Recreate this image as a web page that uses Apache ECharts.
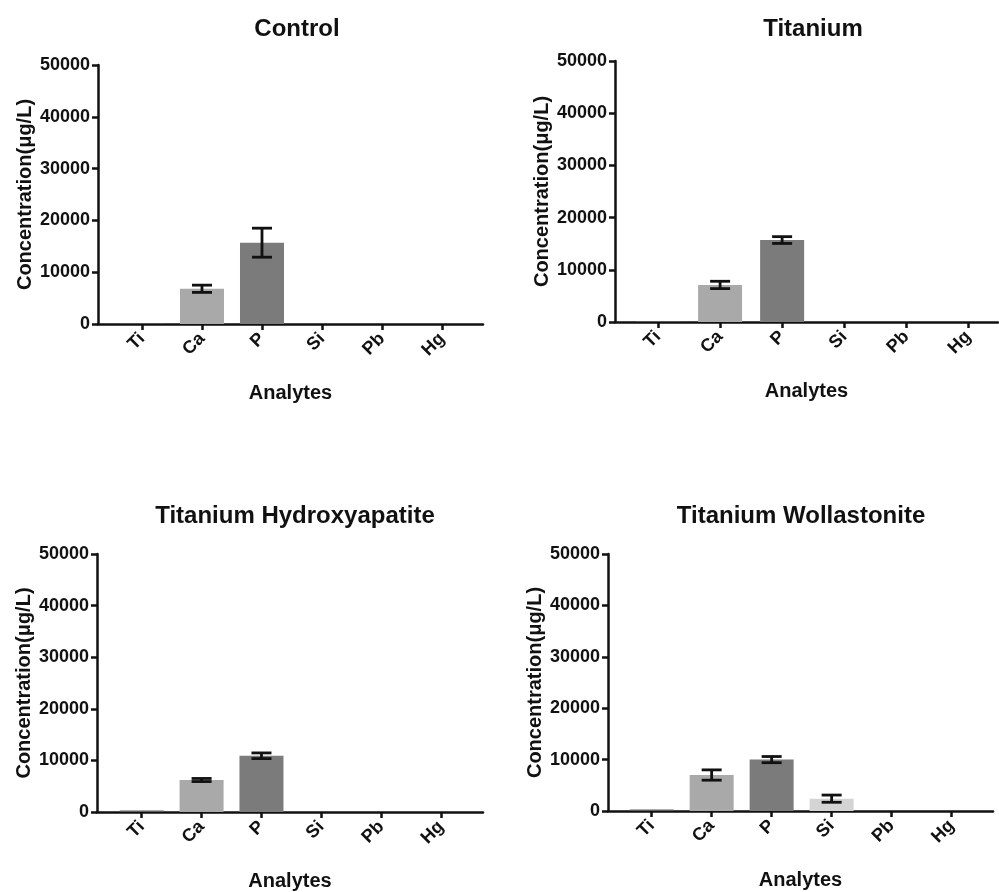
<!DOCTYPE html>
<html>
<head>
<meta charset="utf-8">
<script src="https://cdn.jsdelivr.net/npm/echarts@6/dist/echarts.min.js"></script>
<style>
html,body{margin:0;padding:0;background:#fff;}
#chart{width:999px;height:892px;}
</style>
</head>
<body>
<div id="chart"></div>
<script>
// ---- data ----
const categories = ['Ti', 'Ca', 'P', 'Si', 'Pb', 'Hg'];
const panelTitles = ['Control', 'Titanium', 'Titanium Hydroxyapatite', 'Titanium Wollastonite'];
const controlValues = [100, 6800, 15700, 0, 0, 0];
const controlErrors = [0, 700, 2800, 0, 0, 0];
const titaniumValues = [150, 7100, 15700, 0, 0, 0];
const titaniumErrors = [0, 700, 650, 0, 0, 0];
const hydroxyapatiteValues = [300, 6200, 10900, 0, 0, 0];
const hydroxyapatiteErrors = [0, 300, 550, 0, 0, 0];
const wollastoniteValues = [300, 7000, 10000, 2400, 0, 0];
const wollastoniteErrors = [0, 1000, 600, 700, 0, 0];
const yMin = 0, yMax = 50000, yStep = 10000;
const yAxisName = 'Concentration(μg/L)';
const xAxisName = 'Analytes';

// ---- styles / layout ----
const barColors = ['#5f5f5f', '#a9a9a9', '#7b7b7b', '#d4d4d4', '#9a9a9a', '#9a9a9a'];
const FONT = "'Liberation Sans', Arial, Helvetica, sans-serif";
const panels = [
  { values: controlValues, errors: controlErrors, grid: {left: 98, width: 385, top: 65, height: 259}, xr: [-0.733, 5.683], title: {x: 292, y: 12} },
  { values: titaniumValues, errors: titaniumErrors, grid: {left: 615, width: 383, top: 61, height: 261}, xr: [-0.694, 5.48], title: {x: 808, y: 12} },
  { values: hydroxyapatiteValues, errors: hydroxyapatiteErrors, grid: {left: 97, width: 386, top: 554, height: 258}, xr: [-0.747, 5.70], title: {x: 290, y: 499} },
  { values: wollastoniteValues, errors: wollastoniteErrors, grid: {left: 608, width: 385, top: 554, height: 257}, xr: [-0.728, 5.69], title: {x: 796, y: 499} }
];

const chart = echarts.init(document.getElementById('chart'), null, {renderer: 'canvas'});
const option = {
  backgroundColor: '#fff',
  animation: false,
  title: [], grid: [], xAxis: [], yAxis: [], series: []
};
const idx = categories.map((c, i) => i);

panels.forEach((p, k) => {
  option.title.push({
    text: panelTitles[k], left: p.title.x, top: p.title.y, textAlign: 'center',
    textStyle: {fontFamily: FONT, fontWeight: 'bold', fontSize: 24, color: '#111'}
  });
  option.grid.push(Object.assign({containLabel: false}, p.grid));
  option.xAxis.push({
    type: 'value', gridIndex: k, min: p.xr[0], max: p.xr[1],
    splitLine: {show: false},
    axisLine: {show: true, onZero: false, lineStyle: {color: '#111', width: 2.5}},
    axisTick: {show: true, customValues: idx, length: 6, lineStyle: {color: '#111', width: 2.5}},
    axisLabel: {
      show: true, customValues: idx, rotate: 45, margin: 12,
      fontFamily: FONT, fontWeight: 'bold', fontSize: 18, color: '#111',
      formatter: v => categories[Math.round(v)] || ''
    },
    name: xAxisName, nameLocation: 'middle', nameGap: 59,
    nameTextStyle: {fontFamily: FONT, fontWeight: 'bold', fontSize: 20, color: '#111'}
  });
  option.yAxis.push({
    type: 'value', gridIndex: k, min: yMin, max: yMax, interval: yStep,
    splitLine: {show: false},
    axisLine: {show: true, onZero: false, lineStyle: {color: '#111', width: 2.5}},
    axisTick: {show: true, length: 6, lineStyle: {color: '#111', width: 2.5}},
    axisLabel: {margin: 8, fontFamily: FONT, fontWeight: 'bold', fontSize: 18, color: '#111',
      formatter: v => String(v)},
    name: yAxisName, nameLocation: 'middle', nameGap: 63,
    nameTextStyle: {fontFamily: FONT, fontWeight: 'bold', fontSize: 20, color: '#111'}
  });
  option.series.push({
    type: 'bar', xAxisIndex: k, yAxisIndex: k, barWidth: 44,
    data: p.values.map((v, i) => ({value: [i, v], itemStyle: {color: barColors[i]}}))
  });
  option.series.push({
    type: 'custom', xAxisIndex: k, yAxisIndex: k, z: 5,
    data: p.values.map((v, i) => [i, v, p.errors[i]]),
    renderItem: function (params, api) {
      const x = api.value(0), v = api.value(1), e = api.value(2);
      if (!(e > 0)) return null;
      const hi = api.coord([x, v + e]);
      const lo = api.coord([x, v - e]);
      const cap = 10;
      const style = {stroke: '#111', lineWidth: 2.8};
      return {
        type: 'group',
        children: [
          {type: 'line', shape: {x1: hi[0], y1: hi[1], x2: lo[0], y2: lo[1]}, style: style},
          {type: 'line', shape: {x1: hi[0] - cap, y1: hi[1], x2: hi[0] + cap, y2: hi[1]}, style: style},
          {type: 'line', shape: {x1: lo[0] - cap, y1: lo[1], x2: lo[0] + cap, y2: lo[1]}, style: style}
        ]
      };
    }
  });
});

chart.setOption(option);
</script>
</body>
</html>
